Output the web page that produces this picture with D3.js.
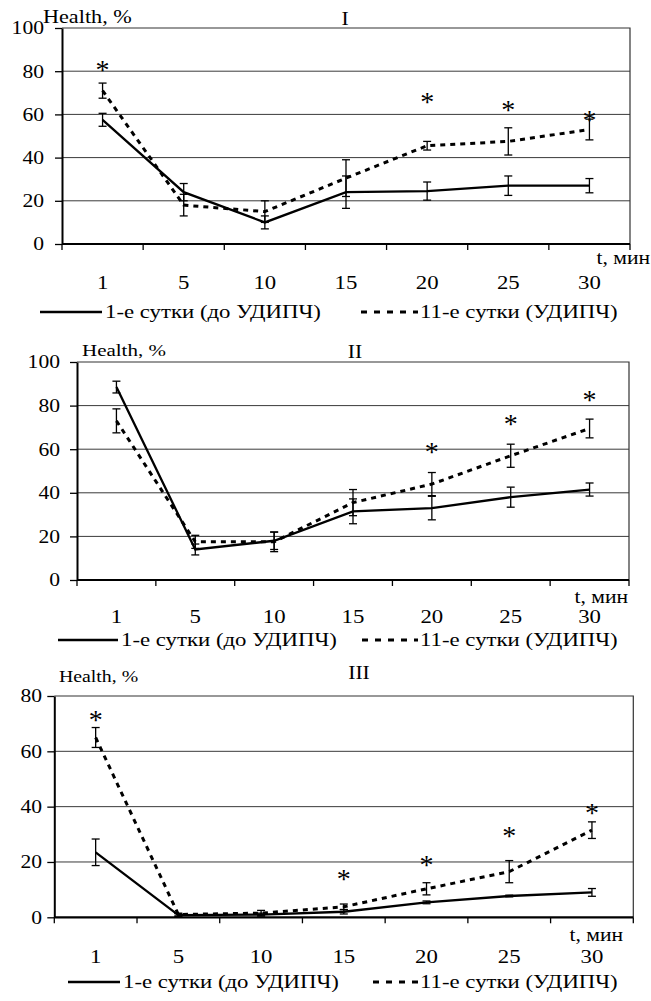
<!DOCTYPE html>
<html>
<head>
<meta charset="utf-8">
<script src="https://cdn.jsdelivr.net/npm/d3@7"></script>
<style>
  html, body { margin: 0; padding: 0; background: #fff; }
  svg { display: block; }
</style>
</head>
<body>
<svg id="chart" width="651" height="1001"></svg>
<script>
// ── Data ────────────────────────────────────────────────────────────────────
var categories = ["1", "5", "10", "15", "20", "25", "30"];

// Panel I
var day1_I       = [57.5, 24, 10, 24, 24.5, 27, 27];
var day1_I_err   = [3, 4, 3, 7.5, 4.2, 4.5, 3.3];
var day11_I      = [71, 18, 15, 30.5, 45.5, 47.5, 53];
var day11_I_err  = [3.5, 5, 5, 8.5, 2, 6.3, 4.8];
var stars_I      = [83, null, null, null, 68, 64.5, 59.5];

// Panel II
var day1_II      = [88.5, 14, 18, 31.5, 33, 38, 41.5];
var day1_II_err  = [2.7, 2.5, 4, 5.7, 5.4, 4.6, 3];
var day11_II     = [73, 17.5, 17.5, 35.5, 44, 57, 69.5];
var day11_II_err = [5.5, 3, 4.5, 6, 5.3, 5.3, 4.3];
var stars_II     = [null, null, null, null, 61, 74, 85];

// Panel III
var day1_III      = [23.5, 0.8, 1, 2, 5.4, 7.7, 9];
var day1_III_err  = [4.8, 0.5, 0.5, 0.8, 0.5, 0.3, 1.4];
var day11_III     = [65, 1, 1.5, 3.8, 10.3, 16.5, 31.5];
var day11_III_err = [3.6, 0.5, 1, 1, 2.2, 4, 3];
var stars_III     = [73, null, null, 15.5, 20.7, 31.3, 39.5];

var ticks_I   = [0, 20, 40, 60, 80, 100];
var ticks_II  = [0, 20, 40, 60, 80, 100];
var ticks_III = [0, 20, 40, 60, 80];

var legendLabels = ["1-е сутки (до УДИПЧ)", "11-е сутки (УДИПЧ)"];

// ── Layout per panel ────────────────────────────────────────────────────────
var panels = [
  { title: "I", s1: day1_I, e1: day1_I_err, s2: day11_I, e2: day11_I_err, stars: stars_I, ticks: ticks_I,
    x0: 62, x1: 630, yBot: 244, yTop: 28, titleX: 345, titleY: 19,
    healthX: 43, healthY: 17, healthSize: 18.5, tickLabelEnd: 44, xLabY: 283,
    tX: 650, tY: 258, legY: 312, leg1: [40, 102], leg2: [361, 418] },
  { title: "II", s1: day1_II, e1: day1_II_err, s2: day11_II, e2: day11_II_err, stars: stars_II, ticks: ticks_II,
    x0: 77, x1: 629, yBot: 580, yTop: 362, titleX: 355, titleY: 352,
    healthX: 82, healthY: 350, healthSize: 17.5, tickLabelEnd: 60, xLabY: 617,
    tX: 628, tY: 597, legY: 640, leg1: [58, 118], leg2: [362, 418] },
  { title: "III", s1: day1_III, e1: day1_III_err, s2: day11_III, e2: day11_III_err, stars: stars_III, ticks: ticks_III,
    x0: 54.3, x1: 633.3, yBot: 917.3, yTop: 696, titleX: 359, titleY: 673,
    healthX: 59, healthY: 677, healthSize: 16.5, tickLabelEnd: 42, xLabY: 957,
    tX: 623, tY: 935, legY: 982, leg1: [68, 120], leg2: [373, 418] }
];

var SX = 1.2;            // the scanned figure is stretched horizontally
var FONT = "'Liberation Serif', 'Times New Roman', serif";
var DASH = "5,5";

var svg = d3.select("#chart");

function label(g, txt, x, y, size, anchor) {
  return g.append("text")
    .attr("transform", "translate(" + x + "," + y + ") scale(" + SX + ",1)")
    .attr("text-anchor", anchor || "start")
    .attr("dominant-baseline", "central")
    .style("font-family", FONT)
    .style("font-size", size + "px")
    .attr("fill", "#000")
    .text(txt);
}

panels.forEach(function (p) {
  var g = svg.append("g");
  var ymax = p.ticks[p.ticks.length - 1];

  var x = d3.scaleBand().domain(categories).range([p.x0, p.x1]).paddingInner(0).paddingOuter(0);
  var y = d3.scaleLinear().domain([0, ymax]).range([p.yBot, p.yTop]);
  var cx = function (i) { return x(categories[i]) + x.bandwidth() / 2; };

  // gridlines
  g.append("g").selectAll("line")
    .data(p.ticks.filter(function (t) { return t > 0 && t < ymax; }))
    .join("line")
    .attr("x1", p.x0).attr("x2", p.x1)
    .attr("y1", function (t) { return y(t); })
    .attr("y2", function (t) { return y(t); })
    .attr("stroke", "#3a3a3a").attr("stroke-width", 1);

  // top and right border
  g.append("path")
    .attr("d", "M" + p.x0 + "," + y(ymax) + "H" + p.x1 + "V" + y(0))
    .attr("fill", "none").attr("stroke", "#333").attr("stroke-width", 1.2);

  // series lines
  var line = d3.line().x(function (d, i) { return cx(i); }).y(function (d) { return y(d); });

  g.append("path").datum(p.s2).attr("d", line)
    .attr("fill", "none").attr("stroke", "#000").attr("stroke-width", 3)
    .attr("stroke-dasharray", DASH);
  g.append("path").datum(p.s1).attr("d", line)
    .attr("fill", "none").attr("stroke", "#000").attr("stroke-width", 2.3);

  // error bars
  [[p.s1, p.e1], [p.s2, p.e2]].forEach(function (pair) {
    var vals = pair[0], errs = pair[1];
    var eb = g.append("g").attr("stroke", "#000").attr("stroke-width", 1.3);
    vals.forEach(function (v, i) {
      var xc = cx(i), yt = y(v + errs[i]), yb = y(Math.max(0, v - errs[i]));
      eb.append("line").attr("x1", xc).attr("x2", xc).attr("y1", yt).attr("y2", yb);
      eb.append("line").attr("x1", xc - 4).attr("x2", xc + 4).attr("y1", yt).attr("y2", yt);
      eb.append("line").attr("x1", xc - 4).attr("x2", xc + 4).attr("y1", yb).attr("y2", yb);
    });
  });

  // significance asterisks
  p.stars.forEach(function (v, i) {
    if (v == null) return;
    g.append("text")
      .attr("x", cx(i)).attr("y", y(v) + 14)
      .attr("text-anchor", "middle")
      .style("font-family", FONT).style("font-size", "28px")
      .attr("fill", "#000")
      .text("*");
  });

  // y axis (ticks and domain from d3, labels drawn separately)
  g.append("g")
    .attr("transform", "translate(" + p.x0 + ",0)")
    .call(d3.axisLeft(y).tickValues(p.ticks).tickSize(7).tickSizeOuter(0).tickFormat(""))
    .call(function (a) {
      a.select(".domain").attr("stroke", "#000").attr("stroke-width", 2);
      a.selectAll(".tick line").attr("stroke", "#000").attr("stroke-width", 1.3);
    });

  p.ticks.forEach(function (t) {
    label(g, String(t), p.tickLabelEnd, y(t), 18, "end");
  });

  // x axis: baseline + boundary ticks
  g.append("line")
    .attr("x1", p.x0).attr("x2", p.x1).attr("y1", y(0)).attr("y2", y(0))
    .attr("stroke", "#000").attr("stroke-width", 2.2);
  var bounds = categories.map(function (c) { return x(c); }).concat([p.x1]);
  g.append("g").selectAll("line").data(bounds).join("line")
    .attr("x1", function (d) { return d; }).attr("x2", function (d) { return d; })
    .attr("y1", y(0)).attr("y2", y(0) + 6)
    .attr("stroke", "#000").attr("stroke-width", 1.3);

  categories.forEach(function (c, i) {
    label(g, c, cx(i), p.xLabY, 19, "middle");
  });

  // axis titles and panel title
  label(g, "Health, %", p.healthX, p.healthY, p.healthSize, "start");
  label(g, "t, мин", p.tX, p.tY, 18, "end");
  label(g, p.title, p.titleX, p.titleY, 18, "middle");

  // legend
  g.append("line")
    .attr("x1", p.leg1[0]).attr("x2", p.leg1[1]).attr("y1", p.legY).attr("y2", p.legY)
    .attr("stroke", "#000").attr("stroke-width", 2.3);
  label(g, legendLabels[0], p.leg1[1] + 3, p.legY, 19, "start");
  g.append("line")
    .attr("x1", p.leg2[0]).attr("x2", p.leg2[1]).attr("y1", p.legY).attr("y2", p.legY)
    .attr("stroke", "#000").attr("stroke-width", 3)
    .attr("stroke-dasharray", "6,7");
  label(g, legendLabels[1], p.leg2[1] + 2, p.legY, 19, "start");
});
</script>
</body>
</html>
